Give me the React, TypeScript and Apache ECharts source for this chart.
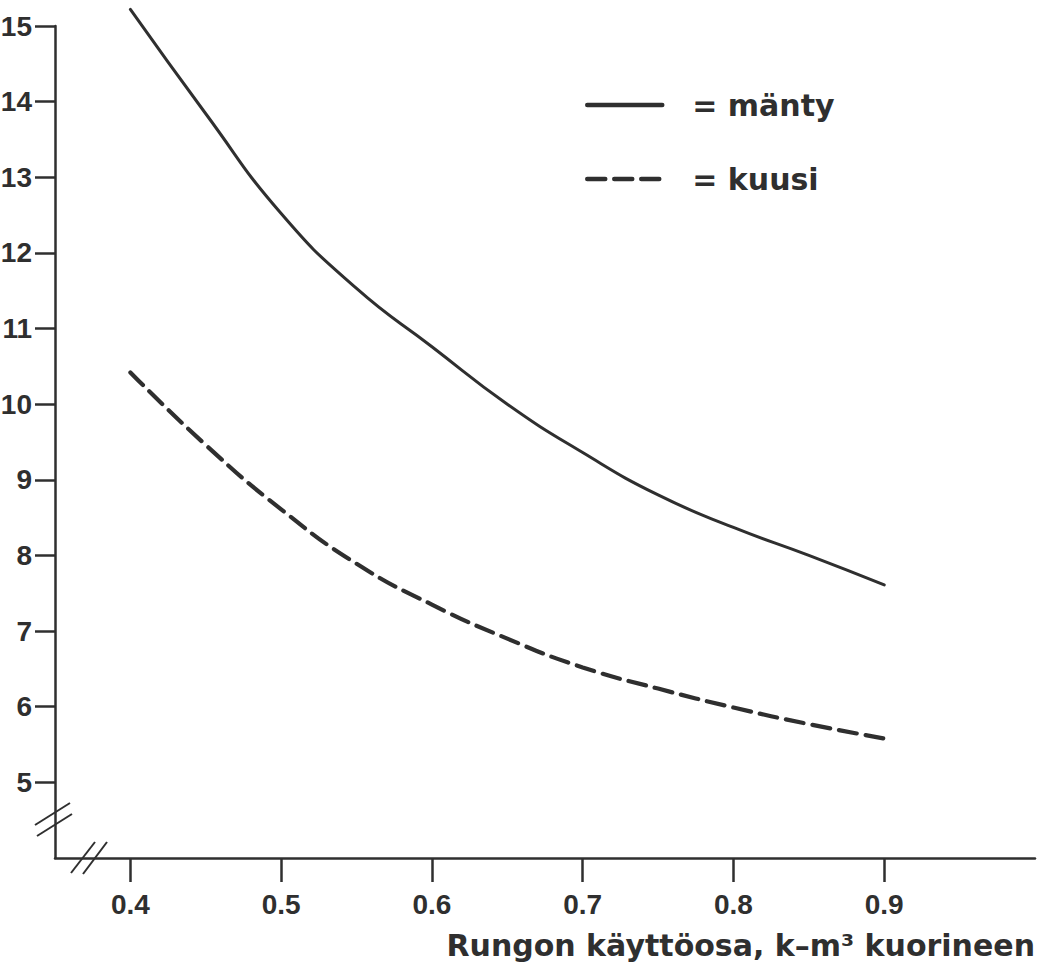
import React, { useEffect, useRef } from "react";
import * as echarts from "echarts";

const xValues = [0.4, 0.45, 0.5, 0.55, 0.6, 0.65, 0.7, 0.75, 0.8, 0.85, 0.9];
const mantyValues = [15.22, 13.84, 12.52, 11.53, 10.76, 10.0, 9.36, 8.8, 8.37, 8.0, 7.61];
const kuusiValues = [10.42, 9.46, 8.61, 7.89, 7.35, 6.9, 6.52, 6.24, 5.99, 5.77, 5.58];
const xTicks = [0.4, 0.5, 0.6, 0.7, 0.8, 0.9];
const yTicks = [5, 6, 7, 8, 9, 10, 11, 12, 13, 14, 15];
const seriesNames = ["mänty", "kuusi"];
const xAxisTitle = "Rungon käyttöosa, k–m³ kuorineen";

const INK = "#2f2f2f";
const NUM = "'Liberation Sans', Arial, sans-serif";
const BOLD = "'DejaVu Sans', Verdana, sans-serif";

export default function App() {
  const ref = useRef<HTMLDivElement>(null);
  useEffect(() => {
    if (!ref.current) return;
    const chart = echarts.init(ref.current, null, { renderer: "svg" });
    const pairs = (ys: number[]) => xValues.map((x, i) => [x, ys[i]]);
    chart.setOption({
      animation: false,
      backgroundColor: "#ffffff",
      grid: { left: 55, top: 26, right: 3, bottom: 111, containLabel: false, outerBoundsMode: "none" },
      legend: {
        orient: "vertical",
        left: 585,
        top: 87,
        padding: 0,
        itemWidth: 75,
        itemHeight: 14,
        itemGap: 38,
        selectedMode: false,
        data: seriesNames,
        formatter: (name: string) => "= " + name,
        itemStyle: { color: "transparent", borderColor: "transparent", borderWidth: 0, opacity: 0 },
        lineStyle: { width: 4.5 },
        textStyle: {
          fontFamily: BOLD,
          fontWeight: "bold",
          fontSize: 30,
          color: INK,
          lineHeight: 36,
          padding: [0, 0, 0, 25],
        },
      },
      xAxis: {
        type: "value",
        min: 0.35,
        max: 1.0,
        name: xAxisTitle,
        nameLocation: "end",
        nameGap: 0,
        nameTextStyle: {
          fontFamily: BOLD,
          fontWeight: "bold",
          fontSize: 30,
          color: INK,
          align: "right",
          verticalAlign: "top",
          padding: [72, 0, 0, 0],
        },
        splitLine: { show: false },
        axisLine: { show: true, onZero: false, lineStyle: { color: INK, width: 2.5 } },
        axisTick: { show: true, customValues: xTicks, length: 24, lineStyle: { color: INK, width: 2.5 } },
        axisLabel: {
          customValues: xTicks,
          margin: 32,
          formatter: (v: number) => v.toFixed(1),
          fontFamily: NUM,
          fontWeight: "bold",
          fontSize: 28,
          color: INK,
        },
      },
      yAxis: {
        type: "value",
        min: 4,
        max: 15,
        interval: 1,
        splitLine: { show: false },
        axisLine: { show: true, onZero: false, lineStyle: { color: INK, width: 2.5 } },
        axisTick: { show: true, customValues: yTicks, length: 20, lineStyle: { color: INK, width: 2.5 } },
        axisLabel: {
          customValues: yTicks,
          margin: 23,
          fontFamily: NUM,
          fontWeight: "bold",
          fontSize: 28,
          color: INK,
        },
      },
      series: [
        {
          name: seriesNames[0],
          type: "line",
          smooth: 0.5,
          clip: false,
          symbol: "none",
          data: pairs(mantyValues),
          lineStyle: { color: INK, width: 3, type: "solid", cap: "round" },
          itemStyle: { color: INK },
        },
        {
          name: seriesNames[1],
          type: "line",
          smooth: 0.5,
          clip: false,
          symbol: "none",
          data: pairs(kuusiValues),
          lineStyle: { color: INK, width: 4.2, type: [18, 9], cap: "round" },
          itemStyle: { color: INK },
        },
      ],
      graphic: [
        { type: "line", shape: { x1: 35, y1: 825, x2: 70, y2: 803 }, style: { stroke: INK, lineWidth: 2 } },
        { type: "line", shape: { x1: 37, y1: 836, x2: 72, y2: 814 }, style: { stroke: INK, lineWidth: 2 } },
        { type: "line", shape: { x1: 71, y1: 873, x2: 95, y2: 842 }, style: { stroke: INK, lineWidth: 2 } },
        { type: "line", shape: { x1: 83, y1: 874, x2: 107, y2: 842 }, style: { stroke: INK, lineWidth: 2 } },
      ],
    });
    return () => chart.dispose();
  }, []);
  return (
    <div
      ref={ref}
      style={{ position: "fixed", left: 0, top: 0, width: 1038, height: 969, background: "#fff" }}
    />
  );
}
